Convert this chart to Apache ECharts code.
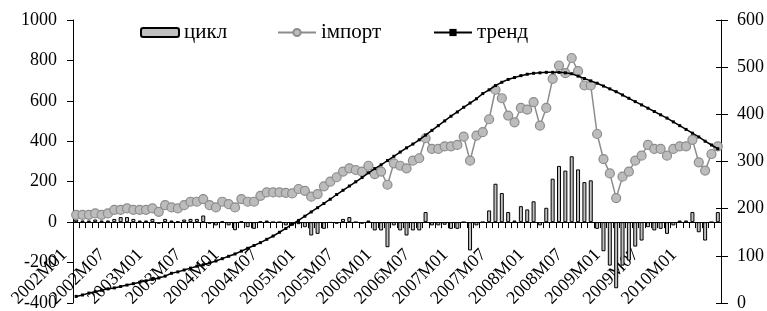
<!DOCTYPE html>
<html>
<head>
<meta charset="utf-8">
<script src="https://cdn.jsdelivr.net/npm/echarts@6/dist/echarts.min.js"></script>
<style>
  html, body { margin: 0; padding: 0; background: #fff; }
  #chart { width: 767px; height: 311px; }
</style>
</head>
<body>
<div id="chart"></div>
<script>
// months 2002M01 .. 2010M06
const months = [];
for (let y = 2002; y <= 2010; y++) {
  for (let m = 1; m <= 12; m++) {
    if (y === 2010 && m > 6) break;
    months.push(y + "M" + (m < 10 ? "0" + m : m));
  }
}

// цикл (left axis)
const cycle = [
  13, 8, 8, 13, 8, 8, 16, 25, 25, 16, 8, 8, 16, -8, 16, 8, 3, 13, 16, 16,
  33, -8, -16, 3, -16, -40, 3, -25, -33, 3, 8, 0, 0, -16, -16, -10, -25, -66, -58, -33,
  -3, -8, 16, 25, 0, -8, 8, -41, -41, -124, -16, -41, -66, -41, -41, 50, -16, -16, -13, -33,
  -33, 0, -140, -16, 0, 58, 190, 144, 50, 8, 79, 63, 103, -16, 71, 215, 278, 255, 326, 261,
  198, 207, -33, -144, -215, -327, -215, -190, -121, -91, -25, -41, -33, -58, -16, 8, 8, 50, -50, -91,
  0, 50
];

// імпорт (left axis)
const imports = [
  36, 36, 36, 43, 36, 43, 61, 61, 68, 61, 61, 61, 68, 51, 84, 73, 68, 84, 101, 101,
  114, 84, 73, 101, 89, 73, 114, 101, 101, 130, 147, 147, 147, 145, 142, 164, 155, 126, 139, 177,
  200, 222, 250, 266, 258, 250, 279, 238, 250, 185, 291, 279, 266, 304, 316, 415, 362, 362, 375, 375,
  382, 423, 304, 428, 445, 509, 655, 613, 527, 494, 565, 557, 594, 477, 565, 709, 775, 737, 812, 747,
  676, 676, 436, 312, 241, 119, 225, 250, 304, 329, 382, 362, 362, 329, 362, 375, 375, 407, 296, 255,
  337, 375
];

// тренд (right axis)
const trend = [
  14, 17, 21, 24, 27, 30, 32, 35, 38, 41, 44, 47, 50, 53, 57, 63, 66, 70, 74, 78,
  81, 85, 89, 94, 99, 104, 110, 116, 122, 128, 135, 142, 150, 158, 167, 175, 184, 193, 202, 211,
  220, 230, 239, 248, 257, 266, 276, 285, 293, 302, 311, 320, 329, 337, 346, 356, 366, 376, 386, 396,
  405, 415, 424, 433, 444, 452, 461, 468, 474, 478, 482, 485, 487, 488, 489, 489, 489, 488, 486, 481,
  476, 471, 466, 460, 454, 448, 441, 434, 427, 420, 413, 406, 399, 392, 384, 376, 368, 360, 352, 343,
  335, 327
];

const FONT = "'Liberation Serif', 'DejaVu Serif', serif";
const txt = { color: "#000", fontFamily: FONT, fontSize: 18 };
const plain = (v) => String(v);

const chart = echarts.init(document.getElementById("chart"));

const legendBase = {
  top: 17,
  itemWidth: 38,
  itemHeight: 9,
  itemGap: 5,
  textStyle: { color: "#000", fontFamily: FONT, fontSize: 21 },
};

chart.setOption({
  animation: false,
  backgroundColor: "#fff",
  grid: { left: 73, right: 46, top: 20, bottom: 8, containLabel: false, outerBoundsMode: "none" },
  legend: [
    Object.assign({}, legendBase, { left: 135, data: ["цикл"] }),
    Object.assign({}, legendBase, { left: 272, data: ["імпорт"] }),
    Object.assign({}, legendBase, { left: 428, data: ["тренд"] }),
  ],
  xAxis: {
    type: "category",
    data: months,
    boundaryGap: true,
    axisLine: { onZero: true, onZeroAxisIndex: 0, lineStyle: { color: "#000", width: 1 } },
    axisTick: { show: true, interval: 0, length: 6, inside: false, lineStyle: { color: "#000" } },
    axisLabel: Object.assign({}, txt, {
      interval: 5,
      rotate: 45,
      margin: -63,
      padding: [0, 17, 0, 0],
      hideOverlap: false,
    }),
    splitLine: { show: false },
  },
  yAxis: [
    {
      type: "value",
      position: "left",
      min: -400,
      max: 1000,
      interval: 200,
      axisLine: { show: true, lineStyle: { color: "#000" } },
      axisTick: { show: true, length: 6, lineStyle: { color: "#000" } },
      axisLabel: Object.assign({}, txt, { margin: 16, formatter: plain }),
      splitLine: { show: false },
    },
    {
      type: "value",
      position: "right",
      min: 0,
      max: 600,
      interval: 100,
      axisLine: { show: true, lineStyle: { color: "#000" } },
      axisTick: { show: true, length: 7, lineStyle: { color: "#000" } },
      axisLabel: Object.assign({}, txt, { margin: 16, formatter: plain }),
      splitLine: { show: false },
    },
    {
      // inner half of the crossing ticks on the right axis
      type: "value",
      position: "right",
      min: 0,
      max: 600,
      interval: 100,
      axisLine: { show: false },
      axisTick: { show: true, inside: true, length: 5, lineStyle: { color: "#000" } },
      axisLabel: { show: false },
      splitLine: { show: false },
    },
  ],
  series: [
    {
      name: "цикл",
      type: "bar",
      yAxisIndex: 0,
      data: cycle,
      barWidth: 4,
      itemStyle: { color: "#c0c0c0", borderColor: "#000", borderWidth: 1 },
    },
    {
      name: "імпорт",
      type: "line",
      yAxisIndex: 0,
      data: imports,
      symbol: "circle",
      symbolSize: 9,
      showAllSymbol: true,
      lineStyle: { color: "#8c8c8c", width: 1.5 },
      itemStyle: { color: "#bcbcbc", borderColor: "#8c8c8c", borderWidth: 1.2 },
      z: 3,
    },
    {
      name: "тренд",
      type: "line",
      yAxisIndex: 1,
      data: trend,
      symbol: "rect",
      symbolSize: 3,
      showAllSymbol: true,
      lineStyle: { color: "#000", width: 1.5 },
      itemStyle: { color: "#000" },
      z: 4,
    },
  ],
});
</script>
</body>
</html>
